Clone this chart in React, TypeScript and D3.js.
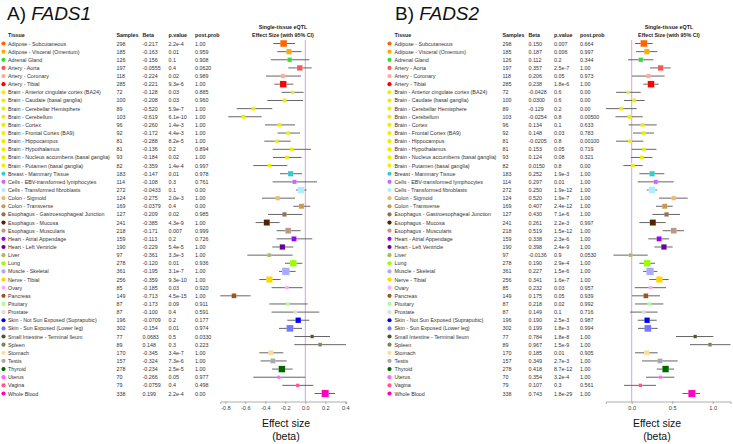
import React, { useEffect, useRef } from "react";
import * as d3 from "d3";

const tissues = [
  "Adipose - Subcutaneous", "Adipose - Visceral (Omentum)", "Adrenal Gland", "Artery - Aorta",
  "Artery - Coronary", "Artery - Tibial", "Brain - Anterior cingulate cortex (BA24)",
  "Brain - Caudate (basal ganglia)", "Brain - Cerebellar Hemisphere", "Brain - Cerebellum",
  "Brain - Cortex", "Brain - Frontal Cortex (BA9)", "Brain - Hippocampus", "Brain - Hypothalamus",
  "Brain - Nucleus accumbens (basal ganglia)", "Brain - Putamen (basal ganglia)",
  "Breast - Mammary Tissue", "Cells - EBV-transformed lymphocytes", "Cells - Transformed fibroblasts",
  "Colon - Sigmoid", "Colon - Transverse", "Esophagus - Gastroesophageal Junction",
  "Esophagus - Mucosa", "Esophagus - Muscularis", "Heart - Atrial Appendage", "Heart - Left Ventricle",
  "Liver", "Lung", "Muscle - Skeletal", "Nerve - Tibial", "Ovary", "Pancreas", "Pituitary",
  "Prostate", "Skin - Not Sun Exposed (Suprapubic)", "Skin - Sun Exposed (Lower leg)",
  "Small Intestine - Terminal Ileum", "Spleen", "Stomach", "Testis", "Thyroid", "Uterus",
  "Vagina", "Whole Blood",
];

const tissueColors = [
  "#FF6600", "#FFAA00", "#33DD33", "#FF5555", "#FFAA99", "#FF0000", "#EEEE00", "#EEEE00",
  "#EEEE00", "#EEEE00", "#EEEE00", "#EEEE00", "#EEEE00", "#EEEE00", "#EEEE00", "#EEEE00",
  "#33CCCC", "#CC66FF", "#AAEEFF", "#EEBB77", "#CC9955", "#8B7355", "#552200", "#BB9988",
  "#9900FF", "#660099", "#AABB66", "#99FF00", "#AAAAFF", "#FFD700", "#FFAAFF", "#995522",
  "#AAFF99", "#DDDDDD", "#0000FF", "#7777FF", "#555522", "#778855", "#FFDD99", "#AAAAAA",
  "#006600", "#FF66FF", "#FF5599", "#FF00BB",
];

const samples = [
  298, 185, 126, 197, 118, 285, 72, 100, 89, 103, 96, 92, 81, 81, 93, 82, 183, 114, 272, 124,
  169, 127, 241, 218, 159, 190, 97, 278, 361, 256, 85, 149, 87, 87, 196, 302, 77, 89, 170, 157,
  278, 70, 79, 338,
];

// FADS1
const betaA = [
  -0.217, -0.163, -0.156, -0.0555, -0.224, -0.221, -0.128, -0.208, -0.52, -0.619, -0.26, -0.172,
  -0.288, -0.136, -0.184, -0.359, -0.147, -0.108, -0.0433, -0.275, -0.0379, -0.209, -0.385,
  -0.171, -0.113, -0.229, -0.361, -0.12, -0.195, -0.359, -0.185, -0.713, -0.173, -0.1, -0.0709,
  -0.154, 0.0683, 0.148, -0.345, -0.324, -0.234, -0.266, -0.0759, 0.199,
];
const pvalA = [
  "2.2e-4", "0.01", "0.1", "0.4", "0.02", "9.3e-6", "0.03", "0.03", "5.9e-7", "6.1e-10", "1.4e-3",
  "4.4e-3", "8.2e-5", "0.2", "0.02", "1.4e-4", "0.01", "0.3", "0.1", "2.0e-3", "0.4", "0.02",
  "4.3e-9", "0.007", "0.2", "5.4e-5", "3.3e-3", "0.01", "3.1e-7", "9.3e-10", "0.03", "4.5e-15",
  "0.09", "0.4", "0.2", "0.01", "0.5", "0.3", "3.4e-7", "7.3e-6", "2.5e-5", "0.05", "0.4", "2.2e-4",
];
const postA = [
  "1.00", "0.959", "0.908", "0.0620", "0.989", "1.00", "0.885", "0.960", "1.00", "1.00", "1.00",
  "1.00", "1.00", "0.894", "1.00", "0.997", "0.978", "0.761", "0.00", "1.00", "0.00", "0.985",
  "1.00", "0.999", "0.726", "1.00", "1.00", "0.936", "1.00", "1.00", "0.920", "1.00", "0.911",
  "0.591", "0.177", "0.974", "0.0330", "0.223", "1.00", "1.00", "1.00", "0.977", "0.498", "0.00",
];
const ciLowA = [
  -0.32, -0.28, -0.343, -0.17, -0.393, -0.31, -0.237, -0.38, -0.686, -0.77, -0.403, -0.277, -0.41,
  -0.327, -0.323, -0.52, -0.253, -0.327, -0.093, -0.433, -0.12, -0.373, -0.497, -0.287, -0.287,
  -0.33, -0.58, -0.203, -0.263, -0.46, -0.337, -0.85, -0.36, -0.337, -0.18, -0.263, -0.11, -0.11,
  -0.46, -0.447, -0.333, -0.52, -0.23, 0.093,
];
const ciHighA = [
  -0.103, -0.037, 0.04, 0.063, -0.043, -0.12, -0.017, -0.023, -0.33, -0.437, -0.103, -0.053,
  -0.147, 0.057, -0.037, -0.18, -0.033, 0.117, 0.013, -0.103, 0.05, -0.03, -0.257, -0.047, 0.07,
  -0.12, -0.127, -0.03, -0.097, -0.247, -0.027, -0.547, 0.023, 0.14, 0.04, -0.033, 0.247, 0.407,
  -0.22, -0.187, -0.127, 0.0, 0.08, 0.297,
];

// FADS2
const betaB = [
  0.15, 0.187, 0.112, 0.357, 0.206, 0.238, -0.0428, 0.03, -0.129, -0.0254, 0.134, 0.148, -0.0205,
  0.153, 0.124, 0.015, 0.252, 0.297, 0.25, 0.52, 0.407, 0.43, 0.261, 0.519, 0.338, 0.398,
  -0.0136, 0.19, 0.227, 0.341, 0.232, 0.175, 0.218, 0.149, 0.19, 0.199, 0.784, 0.967, 0.185,
  0.349, 0.418, 0.354, 0.107, 0.743,
];
const pvalB = [
  "0.007", "0.006", "0.2", "2.5e-7", "0.05", "1.8e-6", "0.6", "0.6", "0.2", "0.8", "0.1", "0.03",
  "0.8", "0.05", "0.08", "0.8", "1.9e-3", "0.01", "1.9e-12", "1.9e-7", "2.4e-12", "7.1e-6",
  "2.2e-3", "1.5e-12", "2.3e-6", "2.4e-9", "0.9", "2.9e-4", "1.5e-6", "1.6e-7", "0.03", "0.05",
  "0.02", "0.1", "2.5e-3", "1.8e-3", "1.8e-8", "1.5e-9", "0.01", "2.7e-3", "8.7e-12", "3.2e-4",
  "0.3", "1.8e-29",
];
const postB = [
  "0.664", "0.997", "0.344", "1.00", "0.973", "1.00", "0.00", "0.00", "0.00", "0.00500", "0.633",
  "0.783", "0.00100", "0.719", "0.321", "0.00", "1.00", "1.00", "1.00", "1.00", "1.00", "1.00",
  "0.997", "1.00", "1.00", "1.00", "0.0530", "1.00", "1.00", "1.00", "0.957", "0.939", "0.992",
  "0.716", "0.987", "0.994", "1.00", "1.00", "0.905", "1.00", "1.00", "1.00", "0.561", "1.00",
];
const ciLowB = [
  0.041, 0.053, -0.045, 0.226, 0.004, 0.144, -0.193, -0.095, -0.317, -0.2, -0.037, 0.016, -0.193,
  0.0, -0.008, -0.103, 0.095, 0.074, 0.185, 0.337, 0.3, 0.255, 0.095, 0.383, 0.206, 0.28, -0.226,
  0.095, 0.14, 0.218, 0.037, 0.004, 0.041, -0.02, 0.074, 0.078, 0.547, 0.72, 0.041, 0.128, 0.309,
  0.177, -0.095, 0.626,
];
const ciHighB = [
  0.259, 0.317, 0.267, 0.481, 0.407, 0.333, 0.111, 0.16, 0.062, 0.136, 0.309, 0.276, 0.144, 0.305,
  0.255, 0.136, 0.403, 0.519, 0.313, 0.691, 0.506, 0.597, 0.42, 0.646, 0.461, 0.506, 0.198, 0.288,
  0.317, 0.457, 0.424, 0.35, 0.391, 0.321, 0.309, 0.321, 1.008, 1.222, 0.321, 0.568, 0.523, 0.527,
  0.3, 0.844,
];

const ticksA = [-0.8, -0.6, -0.4, -0.2, 0, 0.2, 0.4];
const ticksB = [0, 0.5, 1.0];

const FONT = "'Liberation Sans', Arial, sans-serif";
const W = 733;
const H = 444;

type PanelProps = {
  title: string;
  gene: string;
  x0: number;
  beta: number[];
  pval: string[];
  post: string[];
  lo: number[];
  hi: number[];
  domain: [number, number];
  range: [number, number];
  ticks: number[];
  cols: { dot: number; name: number; samp: number; beta: number; p: number; pp: number };
  headerCx: number;
  labelCx: number;
};

const AXIS_Y = 401.5;

function Panel(props: PanelProps) {
  const { title, gene, x0, beta, pval, post, lo, hi, domain, range, ticks, cols, headerCx, labelCx } = props;
  const axisRef = useRef<SVGGElement>(null);
  const x = d3.scaleLinear().domain(domain).range(range);
  const y = d3.scalePoint<string>().domain(tissues).range([43.5, 393.5]);
  const size = d3.scaleSqrt().domain([0, 400]).range([0, 7.8]);

  useEffect(() => {
    if (!axisRef.current) return;
    const g = d3.select(axisRef.current);
    g.selectAll("*").remove();
    g.call(
      d3
        .axisBottom(x)
        .tickValues(ticks)
        .tickSize(2.5)
        .tickSizeOuter(2.5)
        .tickFormat((d) => (d as number).toFixed(1))
    );
    g.select(".domain").attr("stroke", "#9a9a9a").attr("stroke-width", 0.8);
    g.selectAll(".tick line").attr("stroke", "#9a9a9a").attr("stroke-width", 0.8);
    g.selectAll(".tick text")
      .attr("font-family", FONT)
      .attr("font-size", 5.6)
      .attr("fill", "#444")
      .attr("dy", "0.9em")
      .attr("y", 3);
  });

  const tf = { fontFamily: FONT, fontSize: 5.35, fill: "#333" } as const;
  const hf = { fontFamily: FONT, fontSize: 5.35, fill: "#222", fontWeight: 700 } as const;

  return (
    <g>
      <text x={x0} y={20} fontFamily={FONT} fontSize={19} fill="#111">
        {title}
        <tspan fontStyle="italic">{gene}</tspan>
      </text>
      <text x={cols.name} y={37} {...hf}>Tissue</text>
      <text x={cols.samp} y={37} {...hf}>Samples</text>
      <text x={cols.beta} y={37} {...hf}>Beta</text>
      <text x={cols.p} y={37} {...hf}>p.value</text>
      <text x={cols.pp} y={37} {...hf}>post.prob</text>
      <text x={headerCx} y={28.5} textAnchor="middle" {...hf}>Single-tissue eQTL</text>
      <text x={headerCx} y={37} textAnchor="middle" {...hf}>Effect Size (with 95% CI)</text>

      {tissues.map((t, i) => {
        const yy = y(t)!;
        return (
          <g key={t}>
            <circle cx={cols.dot} cy={yy} r={2.1} fill={tissueColors[i]} />
            <text x={cols.name} y={yy} dominantBaseline="central" {...tf}>{t}</text>
            <text x={cols.samp} y={yy} dominantBaseline="central" {...tf}>{samples[i]}</text>
            <text x={cols.beta} y={yy} dominantBaseline="central" {...tf}>{beta[i].toPrecision(3)}</text>
            <text x={cols.p} y={yy} dominantBaseline="central" {...tf}>{pval[i]}</text>
            <text x={cols.pp} y={yy} dominantBaseline="central" {...tf}>{post[i]}</text>
          </g>
        );
      })}

      <line x1={x(0)} x2={x(0)} y1={40} y2={AXIS_Y} stroke="#d9a0d9" strokeWidth={1} />

      {tissues.map((t, i) => {
        const yy = y(t)!;
        const s = size(samples[i]);
        return (
          <g key={"f" + t}>
            <line x1={x(Math.max(lo[i], domain[0]))} x2={x(Math.min(hi[i], domain[1]))} y1={yy} y2={yy} stroke="#555" strokeWidth={0.9} />
            <rect x={x(beta[i]) - s / 2} y={yy - s / 2} width={s} height={s} fill={tissueColors[i]} stroke="#ffffff" strokeOpacity={0.5} strokeWidth={0.3} />
          </g>
        );
      })}

      <g ref={axisRef} transform={`translate(0,${AXIS_Y})`} />
      <text x={labelCx} y={426.5} textAnchor="middle" fontFamily={FONT} fontSize={10.5} fill="#111">Effect size</text>
      <text x={labelCx} y={440} textAnchor="middle" fontFamily={FONT} fontSize={10.5} fill="#111">(beta)</text>
    </g>
  );
}

export default function App() {
  return (
    <svg width={W} height={H} style={{ position: "absolute", left: 0, top: 0, background: "#fff" }}>
      <rect width={W} height={H} fill="#fff" />
      <Panel
        title="A) "
        gene="FADS1"
        x0={7}
        beta={betaA}
        pval={pvalA}
        post={postA}
        lo={ciLowA}
        hi={ciHighA}
        domain={[-0.85, 0.41]}
        range={[220.3, 346.3]}
        ticks={ticksA}
        cols={{ dot: 3.5, name: 8, samp: 116.5, beta: 142.5, p: 168.5, pp: 195 }}
        headerCx={283}
        labelCx={286}
      />
      <Panel
        title="B) "
        gene="FADS2"
        x0={395}
        beta={betaB}
        pval={pvalB}
        post={postB}
        lo={ciLowB}
        hi={ciHighB}
        domain={[-0.32, 1.22]}
        range={[605.8, 730.5]}
        ticks={ticksB}
        cols={{ dot: 389.5, name: 394.5, samp: 502.5, beta: 528.5, p: 554, pp: 580 }}
        headerCx={669}
        labelCx={657}
      />
    </svg>
  );
}
